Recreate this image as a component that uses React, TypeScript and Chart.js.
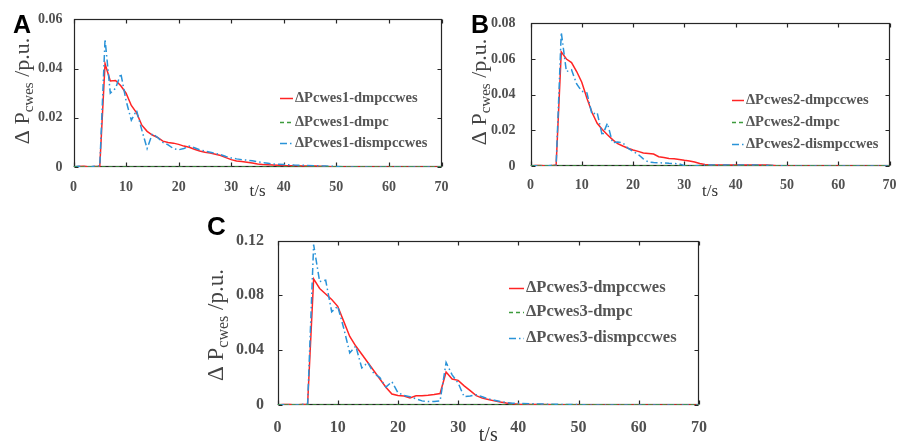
import React, { useEffect, useRef } from "react";
import { Chart, registerables } from "chart.js";

Chart.register(...registerables);

// time axis (s)
const TIME_S = [0, 1, 2, 3, 4, 5, 6, 7, 8, 9, 10, 11, 12, 13, 14, 15, 16, 17, 18, 19, 20, 21, 22, 23, 24, 25, 26, 27, 28, 29, 30, 31, 32, 33, 34, 35, 36, 37, 38, 39, 40, 42, 44, 46, 48, 50, 52, 55, 60, 65, 70];

const X_TICKS = [0, 10, 20, 30, 40, 50, 60, 70];
const A_Y_TICKS = [0, 0.02, 0.04, 0.06];
const B_Y_TICKS = [0, 0.02, 0.04, 0.06, 0.08];
const C_Y_TICKS = [0, 0.04, 0.08, 0.12];

// Panel A
const A_DMPCCWES = [0, 0.0002, 0.0003, 0, 0.0002, 0.0003, 0.042, 0.035, 0.0352, 0.033, 0.030, 0.025, 0.022, 0.017, 0.0145, 0.013, 0.012, 0.0105, 0.010, 0.0097, 0.0092, 0.0085, 0.008, 0.0072, 0.0065, 0.006, 0.0057, 0.0052, 0.0047, 0.0038, 0.003, 0.0024, 0.0022, 0.0019, 0.0016, 0.0012, 0.001, 0.0009, 0.0008, 0.0007, 0.0006, 0.0005, 0.0004, 0.0004, 0.0002, 0, 0, 0, 0, 0, 0];
const A_DMPC = [0, 0, 0, 0, 0, 0, 0, 0, 0, 0, 0, 0, 0, 0, 0, 0, 0, 0, 0, 0, 0, 0, 0, 0, 0, 0, 0, 0, 0, 0, 0, 0, 0, 0, 0, 0, 0, 0, 0, 0, 0, 0, 0, 0, 0, 0, 0, 0, 0, 0, 0];
const A_DISMPCCWES = [0, 0.0003, 0, 0, 0.0003, 0.0004, 0.052, 0.030, 0.032, 0.038, 0.027, 0.019, 0.023, 0.015, 0.0075, 0.0135, 0.012, 0.010, 0.009, 0.0075, 0.007, 0.0075, 0.0085, 0.0078, 0.007, 0.0065, 0.006, 0.0055, 0.005, 0.0043, 0.0037, 0.0033, 0.003, 0.0028, 0.0025, 0.0021, 0.0018, 0.0015, 0.0012, 0.0011, 0.001, 0.0008, 0.0007, 0.0005, 0.0004, 0.0002, 0, 0, 0, 0, 0];

// Panel B
const B_DMPCCWES = [0, 0.0003, 0.0003, 0, 0.0002, 0.0005, 0.064, 0.060, 0.058, 0.053, 0.047, 0.038, 0.030, 0.024, 0.0205, 0.0175, 0.0148, 0.0125, 0.0112, 0.010, 0.009, 0.0082, 0.0073, 0.007, 0.0067, 0.0052, 0.0048, 0.0042, 0.004, 0.0037, 0.0032, 0.0028, 0.0022, 0.0014, 0.0008, 0.0005, 0.0005, 0.0006, 0.0006, 0.0006, 0.0006, 0.0005, 0.0005, 0.0006, 0.0002, 0, 0, 0, 0, 0, 0];
const B_DMPC = [0, 0, 0, 0, 0, 0, 0, 0, 0, 0, 0, 0, 0, 0, 0, 0, 0, 0, 0, 0, 0, 0, 0, 0, 0, 0, 0, 0, 0, 0, 0, 0, 0, 0, 0, 0, 0, 0, 0, 0, 0, 0, 0, 0, 0, 0, 0, 0, 0, 0, 0];
const B_DISMPCCWES = [0, 0.0002, 0, 0, 0.0003, 0.0006, 0.075, 0.053, 0.054, 0.046, 0.042, 0.041, 0.029, 0.030, 0.017, 0.024, 0.013, 0.0135, 0.013, 0.010, 0.0082, 0.0065, 0.004, 0.0022, 0.0019, 0.0018, 0.0017, 0.0015, 0.0014, 0.0012, 0.0002, 0, 0.0001, 0.0003, 0.0005, 0.0006, 0.0006, 0.0006, 0.0006, 0.0006, 0.0006, 0.0006, 0.0005, 0.0004, 0.0002, 0, 0, 0, 0, 0, 0];

// Panel C
const C_DMPCCWES = [0, 0.0003, 0.0004, 0, 0.0003, 0.0005, 0.092, 0.085, 0.081, 0.077, 0.072, 0.061, 0.050, 0.043, 0.037, 0.031, 0.025, 0.019, 0.013, 0.008, 0.007, 0.0065, 0.0052, 0.0068, 0.0068, 0.0072, 0.0077, 0.0084, 0.024, 0.019, 0.018, 0.014, 0.0105, 0.0068, 0.005, 0.004, 0.003, 0.0022, 0.0015, 0.001, 0.0006, 0.0003, 0.0003, 0.0002, 0.0001, 0, 0, 0, 0, 0, 0];
const C_DMPC = [0, 0, 0, 0, 0, 0, 0, 0, 0, 0, 0, 0, 0, 0, 0, 0, 0, 0, 0, 0, 0, 0, 0, 0, 0, 0, 0, 0, 0, 0, 0, 0, 0, 0, 0, 0, 0, 0, 0, 0, 0, 0, 0, 0, 0, 0, 0, 0, 0, 0, 0];
const C_DISMPCCWES = [0, 0.0002, 0, 0, 0.0004, 0.0006, 0.117, 0.090, 0.091, 0.068, 0.072, 0.056, 0.038, 0.043, 0.027, 0.031, 0.023, 0.020, 0.013, 0.017, 0.009, 0.007, 0.006, 0.0045, 0.003, 0.0025, 0.0025, 0.003, 0.031, 0.022, 0.016, 0.006, 0.0065, 0.0075, 0.006, 0.0045, 0.0035, 0.0025, 0.0018, 0.0013, 0.0012, 0.0009, 0.0007, 0.0005, 0.0004, 0.0003, 0, 0, 0, 0, 0];

const SERIES_STYLE = [
  { color: "#ff2424", dash: [] as number[], width: 1.5 },
  { color: "#3d9b3d", dash: [4, 3], width: 1.5 },
  { color: "#2a93d8", dash: [7, 3, 1.5, 3], width: 1.5 },
];

type PanelCfg = {
  letter: string;
  n: string;
  series: number[][];
  yTicks: number[];
  box: { left: number; top: number; width: number; height: number };
  yWidth: number;
  padTop: number;
  padRight: number;
  xHeight: number;
  tickFont: number;
  xPad: number;
  yPad: number;
  letterPos: { x: number; y: number; size: number };
  yTitle: { cx: number; cy: number; size: number };
  xTitle: { y: number; size: number };
  legend: { x: number; ys: number[]; len: number; gap: number; size: number };
};

const PANELS: PanelCfg[] = [
  {
    letter: "A",
    n: "1",
    series: [A_DMPCCWES, A_DMPC, A_DISMPCCWES],
    yTicks: A_Y_TICKS,
    box: { left: 0, top: 0, width: 460, height: 200 },
    yWidth: 73.5,
    padTop: 18,
    padRight: 12.5,
    xHeight: 33,
    tickFont: 14,
    xPad: 11.5,
    yPad: 11,
    letterPos: { x: 13, y: 33, size: 25 },
    yTitle: { cx: 21, cy: 91, size: 22 },
    xTitle: { y: 196, size: 17 },
    legend: { x: 280, ys: [98, 122, 143], len: 13, gap: 2, size: 14.5 },
  },
  {
    letter: "B",
    n: "2",
    series: [B_DMPCCWES, B_DMPC, B_DISMPCCWES],
    yTicks: B_Y_TICKS,
    box: { left: 460, top: 0, width: 447, height: 200 },
    yWidth: 70.5,
    padTop: 18,
    padRight: 10.5,
    xHeight: 34,
    tickFont: 14,
    xPad: 10.5,
    yPad: 15,
    letterPos: { x: 11, y: 33, size: 25 },
    yTitle: { cx: 18, cy: 92, size: 22 },
    xTitle: { y: 196, size: 17 },
    legend: { x: 272, ys: [100, 122, 144], len: 12, gap: 2, size: 14.5 },
  },
  {
    letter: "C",
    n: "3",
    series: [C_DMPCCWES, C_DMPC, C_DISMPCCWES],
    yTicks: C_Y_TICKS,
    box: { left: 190, top: 205, width: 530, height: 238 },
    yWidth: 87.5,
    padTop: 35.5,
    padRight: 15,
    xHeight: 38,
    tickFont: 16,
    xPad: 13,
    yPad: 13.5,
    letterPos: { x: 17, y: 29.5, size: 26 },
    yTitle: { cx: 25, cy: 120, size: 23 },
    xTitle: { y: 236, size: 20 },
    legend: { x: 319, ys: [83, 107, 133], len: 15, gap: 2, size: 16.5 },
  },
];

const SERIF = '"Liberation Serif", "Times New Roman", serif';
const SANS = '"Liberation Sans", Arial, sans-serif';

const decorPlugin = {
  id: "decor",
  beforeDatasetsDraw(chart: any, _args: any, opts: any) {
    const { ctx, chartArea } = chart;
    const l = Math.round(chartArea.left) + 0.5;
    const r = Math.round(chartArea.right) - 0.5;
    const t = Math.round(chartArea.top) + 0.5;
    const b = Math.round(chartArea.bottom) - 0.5;
    ctx.save();
    ctx.strokeStyle = "#262626";
    ctx.lineWidth = 1.2;
    ctx.strokeRect(l, t, r - l, b - t);
    const xs = chart.scales.x;
    const ys = chart.scales.y;
    const tl = 4;
    ctx.beginPath();
    for (const v of X_TICKS) {
      const px = Math.round(xs.getPixelForValue(v)) + 0.5;
      ctx.moveTo(px, b);
      ctx.lineTo(px, b - tl);
      ctx.moveTo(px, t);
      ctx.lineTo(px, t + tl);
    }
    for (const v of opts.yTicks as number[]) {
      const py = Math.round(ys.getPixelForValue(v)) + 0.5;
      ctx.moveTo(l, py);
      ctx.lineTo(l + tl, py);
      ctx.moveTo(r, py);
      ctx.lineTo(r - tl, py);
    }
    ctx.stroke();
    ctx.restore();
  },
  afterDraw(chart: any, _args: any, opts: any) {
    const { ctx, chartArea } = chart;
    ctx.save();
    // panel letter
    ctx.fillStyle = "#000";
    ctx.font = `bold ${opts.letterPos.size}px ${SANS}`;
    ctx.textAlign = "left";
    ctx.textBaseline = "alphabetic";
    ctx.fillText(opts.letter, opts.letterPos.x, opts.letterPos.y);

    // x title
    ctx.fillStyle = "#333";
    ctx.font = `${opts.xTitle.size}px ${SERIF}`;
    ctx.textAlign = "center";
    ctx.fillText("t/s", (chartArea.left + chartArea.right) / 2, opts.xTitle.y);

    // y title with subscript
    const s = opts.yTitle.size;
    const parts = [
      { t: "\u0394 P", f: `${s}px ${SERIF}`, dy: 0 },
      { t: "cwes", f: `${Math.round(s * 0.68)}px ${SERIF}`, dy: s * 0.2 },
      { t: " /p.u.", f: `${s}px ${SERIF}`, dy: 0 },
    ];
    let total = 0;
    const widths: number[] = [];
    for (const p of parts) {
      ctx.font = p.f;
      const w = ctx.measureText(p.t).width;
      widths.push(w);
      total += w;
    }
    ctx.translate(opts.yTitle.cx, opts.yTitle.cy);
    ctx.rotate(-Math.PI / 2);
    ctx.textAlign = "left";
    ctx.textBaseline = "alphabetic";
    ctx.fillStyle = "#444";
    let x = -total / 2;
    parts.forEach((p, i) => {
      ctx.font = p.f;
      ctx.fillText(p.t, x, s * 0.35 + p.dy);
      x += widths[i];
    });
    ctx.restore();

    // legend
    ctx.save();
    const lg = opts.legend;
    chart.data.datasets.forEach((ds: any, i: number) => {
      const y = lg.ys[i];
      ctx.strokeStyle = ds.borderColor;
      ctx.lineWidth = ds.borderWidth;
      ctx.setLineDash(ds.borderDash || []);
      ctx.beginPath();
      ctx.moveTo(lg.x, y + 0.5);
      ctx.lineTo(lg.x + lg.len, y + 0.5);
      ctx.stroke();
      ctx.setLineDash([]);
      ctx.fillStyle = "#555";
      ctx.font = `bold ${lg.size}px ${SERIF}`;
      ctx.textAlign = "left";
      ctx.textBaseline = "middle";
      ctx.fillText(ds.label, lg.x + lg.len + lg.gap, y);
    });
    ctx.restore();
  },
};

function Panel({ cfg }: { cfg: PanelCfg }) {
  const ref = useRef<HTMLCanvasElement | null>(null);
  useEffect(() => {
    if (!ref.current) return;
    const names = ["dmpccwes", "dmpc", "dismpccwes"];
    const datasets = cfg.series.map((vals, i) => ({
      label: `\u0394Pcwes${cfg.n}-${names[i]}`,
      data: TIME_S.map((t, k) => ({ x: t, y: vals[k] })),
      borderColor: SERIES_STYLE[i].color,
      backgroundColor: SERIES_STYLE[i].color,
      borderWidth: SERIES_STYLE[i].width,
      borderDash: SERIES_STYLE[i].dash,
      pointRadius: 0,
      tension: 0,
      fill: false,
      order: i === 1 ? 0 : i === 0 ? 2 : 1,
    }));
    const yMax = cfg.yTicks[cfg.yTicks.length - 1];
    const yStep = cfg.yTicks[1] - cfg.yTicks[0];
    const tickColor = "#505050";
    const chart = new Chart(ref.current, {
      type: "line",
      data: { datasets },
      plugins: [decorPlugin],
      options: {
        responsive: false,
        maintainAspectRatio: false,
        animation: false,
        layout: { padding: { top: cfg.padTop, right: cfg.padRight, left: 0, bottom: 0 } },
        plugins: {
          legend: { display: false },
          tooltip: { enabled: false },
          decor: {
            letter: cfg.letter,
            letterPos: cfg.letterPos,
            yTitle: cfg.yTitle,
            xTitle: cfg.xTitle,
            legend: cfg.legend,
            yTicks: cfg.yTicks,
          },
        } as any,
        scales: {
          x: {
            type: "linear",
            min: 0,
            max: 70,
            grid: { display: false, drawTicks: false },
            border: { display: false },
            ticks: {
              stepSize: 10,
              autoSkip: false,
              maxRotation: 0,
              padding: cfg.xPad,
              color: tickColor,
              font: { family: SERIF, size: cfg.tickFont, weight: "bold" },
            },
            afterFit: (s: any) => {
              s.height = cfg.xHeight;
            },
          },
          y: {
            type: "linear",
            min: 0,
            max: yMax,
            grid: { display: false, drawTicks: false },
            border: { display: false },
            ticks: {
              stepSize: yStep,
              padding: cfg.yPad,
              color: tickColor,
              font: { family: SERIF, size: cfg.tickFont, weight: "bold" },
              callback: (v: any) => (Math.abs(v) < 1e-9 ? "0" : Number(v).toFixed(2)),
            },
            afterFit: (s: any) => {
              s.width = cfg.yWidth;
            },
          },
        },
      } as any,
    });
    return () => chart.destroy();
  }, [cfg]);
  return (
    <canvas
      ref={ref}
      width={cfg.box.width}
      height={cfg.box.height}
      style={{
        position: "absolute",
        left: cfg.box.left,
        top: cfg.box.top,
        width: cfg.box.width,
        height: cfg.box.height,
        display: "block",
      }}
    />
  );
}

export default function App() {
  return (
    <div
      style={{
        position: "absolute",
        left: 0,
        top: 0,
        width: 907,
        height: 443,
        background: "#fff",
        overflow: "hidden",
      }}
    >
      {PANELS.map((p) => (
        <Panel key={p.letter} cfg={p} />
      ))}
    </div>
  );
}
